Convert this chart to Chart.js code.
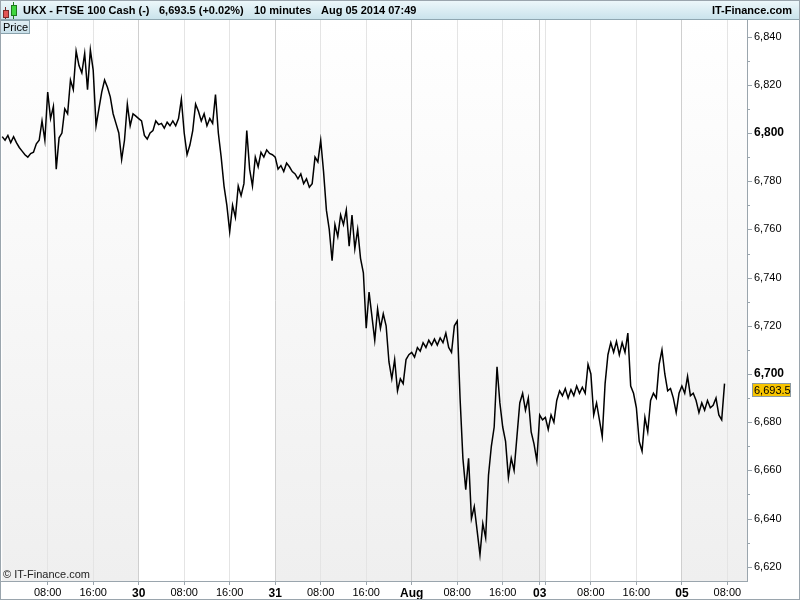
<!DOCTYPE html>
<html>
<head>
<meta charset="utf-8">
<script src="https://cdn.jsdelivr.net/npm/chart.js@4.4.1/dist/chart.umd.min.js"></script>
<style>
  html, body { margin: 0; padding: 0; background: #fff; }
  #wrap { width: 800px; height: 600px; }
</style>
</head>
<body>
<div id="wrap"><canvas id="chart" width="800" height="600"></canvas></div>
<script>
// UKX - FTSE 100 Cash, 10 minute bars. x = bar index, 0 = Tue Jul 29 2014 00:00,
// weekend gap removed (Fri session ends 22:30, Sun session 23:00-24:00).
// Prices every 30 minutes (3 bars).
const STEP = 3;
const sessionStart = { jul29: 0, jul30: 144, jul31: 288, aug1: 432, aug3: 567, aug4: 573, aug5: 717 };

const jul29 = [6798.5, 6797, 6799, 6796, 6798.5, 6796, 6794, 6792.5, 6791, 6790,
  6791.5, 6792, 6795.5, 6797, 6805, 6797, 6817, 6806, 6811, 6785,
  6798, 6800, 6810, 6808, 6822, 6818, 6834, 6828, 6825, 6833,
  6818, 6834.5, 6826, 6803, 6810, 6817, 6822, 6819, 6815, 6808,
  6804, 6800, 6789, 6797, 6812, 6803, 6808, 6807];
const jul30 = [6806, 6805, 6799, 6797.5, 6800, 6801, 6805, 6803.5, 6804, 6802,
  6804.5, 6803, 6805, 6803, 6806, 6814, 6800, 6791, 6795, 6801,
  6812, 6809, 6805, 6808, 6803, 6806, 6804, 6816, 6800, 6790,
  6778, 6770, 6759, 6770, 6765, 6778, 6774, 6779, 6801, 6785,
  6778, 6790, 6786, 6792, 6790, 6793, 6791.5, 6791];
const jul31 = [6790, 6785, 6786.5, 6784, 6787.5, 6786, 6784, 6783, 6781, 6783,
  6779, 6781, 6777.5, 6779, 6790, 6788, 6797, 6784, 6768, 6760,
  6747, 6762, 6757, 6766, 6762, 6768, 6753, 6766, 6752, 6760,
  6748, 6742, 6719, 6734, 6724, 6714, 6727, 6719, 6725, 6720,
  6705, 6698, 6706, 6693, 6698, 6696, 6706, 6708];
const aug1 = [6709, 6707, 6711, 6709.5, 6713, 6711, 6714, 6712, 6714.5, 6712,
  6715, 6713, 6717, 6711, 6709, 6720, 6722, 6690, 6665, 6652,
  6665, 6640, 6645, 6635, 6625, 6638, 6632, 6658, 6670, 6678,
  6703, 6688, 6678, 6672, 6657, 6665, 6660, 6674, 6688, 6692,
  6685, 6690, 6676, 6671, 6664];
const aug3 = [6683, 6681];
const aug4 = [6682, 6677, 6683, 6680, 6689, 6693, 6691, 6694, 6690, 6693.5,
  6691, 6695, 6692, 6694.5, 6692, 6704, 6700, 6683, 6688, 6681,
  6674, 6696, 6708, 6713, 6709, 6713.5, 6708, 6713, 6709, 6717,
  6695, 6692, 6686, 6672, 6668, 6682, 6676, 6689, 6692, 6690,
  6704, 6710, 6700, 6693, 6694, 6690, 6684, 6692];
const aug5 = [6695, 6692, 6699, 6691, 6692, 6689, 6684, 6688, 6685, 6689,
  6686, 6687, 6690, 6683, 6681, 6696];
const lastPrice = 6693.5;

const xTickBars = [48, 96, 144, 192, 240, 288, 336, 384, 432, 480, 528, 567, 573, 621, 669, 717, 765];
const xTickLabels = ['08:00', '16:00', '30', '08:00', '16:00', '31', '08:00', '16:00', 'Aug',
  '08:00', '16:00', '03', '', '08:00', '16:00', '05', '08:00'];
const dayLabels = ['30', '31', 'Aug', '03', '05'];
const yTicks = [6620, 6640, 6660, 6680, 6700, 6720, 6740, 6760, 6780, 6800, 6820, 6840];
const shadedRanges = [[0, 144], [288, 573], [717, 800]];

const FONT = "'Liberation Sans', Arial, sans-serif";
const AXIS_COLOR = '#9aa5ad';

function toPoints(start, values) {
  return values.map((v, i) => ({ x: start + i * STEP, y: v }));
}

const series = [
  ...toPoints(sessionStart.jul29, jul29),
  ...toPoints(sessionStart.jul30, jul30),
  ...toPoints(sessionStart.jul31, jul31),
  ...toPoints(sessionStart.aug1, aug1),
  ...toPoints(sessionStart.aug3, aug3),
  ...toPoints(sessionStart.aug4, aug4),
  ...toPoints(sessionStart.aug5, aug5)
];

const decor = {
  id: 'decor',
  beforeDraw(chart) {
    const { ctx, chartArea: a, scales: { x } } = chart;
    ctx.save();
    ctx.fillStyle = '#fff';
    ctx.fillRect(0, 0, chart.width, chart.height);

    // day bands
    const grad = ctx.createLinearGradient(0, a.top, 0, a.bottom);
    grad.addColorStop(0, '#ffffff');
    grad.addColorStop(1, '#efefef');
    ctx.fillStyle = grad;
    shadedRanges.forEach(([s, e]) => {
      const x0 = Math.max(a.left, x.getPixelForValue(s));
      const x1 = Math.min(a.right, x.getPixelForValue(e));
      ctx.fillRect(x0, a.top, x1 - x0, a.bottom - a.top);
    });

    // header bar
    const hg = ctx.createLinearGradient(0, 0, 0, 20);
    hg.addColorStop(0, '#eef8fb');
    hg.addColorStop(1, '#c8e2eb');
    ctx.fillStyle = hg;
    ctx.fillRect(0, 0, chart.width, 20);
    ctx.fillStyle = '#8fa7b1';
    ctx.fillRect(0, 19, chart.width, 1);

    // candle icon
    ctx.lineWidth = 1;
    ctx.strokeStyle = '#7a2a2a';
    ctx.beginPath(); ctx.moveTo(5.5, 7); ctx.lineTo(5.5, 19); ctx.stroke();
    ctx.fillStyle = '#e25555';
    ctx.fillRect(3, 10, 6, 8);
    ctx.strokeRect(3.5, 10.5, 5, 7);
    ctx.strokeStyle = '#1e7a1e';
    ctx.beginPath(); ctx.moveTo(13.5, 2); ctx.lineTo(13.5, 19); ctx.stroke();
    ctx.fillStyle = '#3fd63f';
    ctx.fillRect(11, 5, 6, 11);
    ctx.strokeRect(11.5, 5.5, 5, 10);

    ctx.fillStyle = '#000';
    ctx.font = `bold 11px ${FONT}`;
    ctx.textBaseline = 'middle';
    ctx.textAlign = 'left';
    ctx.fillText('UKX - FTSE 100 Cash (-)', 23, 10.5);
    ctx.fillText('6,693.5 (+0.02%)', 159, 10.5);
    ctx.fillText('10 minutes', 254, 10.5);
    ctx.fillText('Aug 05 2014 07:49', 321, 10.5);
    ctx.textAlign = 'right';
    ctx.fillText('IT-Finance.com', 792, 10.5);
    ctx.restore();
  },
  afterDraw(chart) {
    const { ctx, chartArea: a, scales: { y } } = chart;
    ctx.save();

    // y minor / major tick marks
    ctx.strokeStyle = AXIS_COLOR;
    ctx.lineWidth = 1;
    for (let v = 6620; v <= 6840; v += 10) {
      const py = Math.round(y.getPixelForValue(v)) + 0.5;
      const len = v % 20 === 0 ? 5 : 3;
      ctx.beginPath();
      ctx.moveTo(a.right, py);
      ctx.lineTo(a.right + len, py);
      ctx.stroke();
    }

    // last price tag
    const py = y.getPixelForValue(lastPrice);
    ctx.fillStyle = '#f7c400';
    ctx.fillRect(752, Math.round(py) - 7, 39, 14);
    ctx.strokeStyle = '#8c9aa2';
    ctx.strokeRect(752.5, Math.round(py) - 6.5, 38, 13);
    ctx.fillStyle = '#000';
    ctx.font = `11px ${FONT}`;
    ctx.textBaseline = 'middle';
    ctx.textAlign = 'left';
    ctx.fillText('6,693.5', 754, Math.round(py) + 0.5);

    // "Price" tab
    const pg = ctx.createLinearGradient(0, 20, 0, 34);
    pg.addColorStop(0, '#e2f0f5');
    pg.addColorStop(1, '#c6dee8');
    ctx.fillStyle = pg;
    ctx.fillRect(0, 20, 30, 14);
    ctx.strokeStyle = '#8aa2ac';
    ctx.strokeRect(0.5, 20.5, 29, 13);
    ctx.fillStyle = '#000';
    ctx.fillText('Price', 3, 27.5);

    // copyright
    ctx.fillStyle = '#222';
    ctx.fillText('\u00a9 IT-Finance.com', 3, 575);

    // outer frame
    ctx.strokeStyle = AXIS_COLOR;
    ctx.strokeRect(0.5, 0.5, chart.width - 1, chart.height - 1);
    ctx.restore();
  }
};

new Chart(document.getElementById('chart'), {
  type: 'line',
  data: {
    datasets: [{
      data: series,
      borderColor: '#000',
      borderWidth: 1.5,
      pointRadius: 0,
      tension: 0,
      fill: false
    }]
  },
  options: {
    responsive: false,
    animation: false,
    layout: { padding: { top: 20, left: 1, right: 0, bottom: 0 } },
    plugins: { legend: { display: false }, tooltip: { enabled: false } },
    scales: {
      x: {
        type: 'linear',
        min: -1.27,
        max: 785.7,
        afterBuildTicks: (scale) => { scale.ticks = xTickBars.map(v => ({ value: v })); },
        afterFit: (scale) => { scale.height = 19; },
        ticks: {
          autoSkip: false,
          maxRotation: 0,
          padding: 1,
          color: '#000',
          callback: (v, i) => xTickLabels[i],
          font: (c) => dayLabels.includes(xTickLabels[c.index])
            ? { family: FONT, size: 12, weight: 'bold' }
            : { family: FONT, size: 11 }
        },
        grid: {
          drawOnChartArea: true,
          tickLength: 4,
          tickColor: AXIS_COLOR,
          color: (c) => dayLabels.includes(xTickLabels[c.index]) ? '#cfcfcf' : '#e4e4e4'
        },
        border: { display: true, color: AXIS_COLOR }
      },
      y: {
        position: 'right',
        min: 6614.1,
        max: 6846.9,
        afterBuildTicks: (scale) => { scale.ticks = yTicks.map(v => ({ value: v })); },
        afterFit: (scale) => { scale.width = 53; },
        ticks: {
          padding: 7,
          color: '#000',
          callback: (v) => v.toLocaleString('en-US'),
          font: (c) => c.tick && c.tick.value % 100 === 0
            ? { family: FONT, size: 12, weight: 'bold' }
            : { family: FONT, size: 11 }
        },
        grid: { display: false, drawTicks: false },
        border: { display: true, color: AXIS_COLOR }
      }
    }
  },
  plugins: [decor]
});
</script>
</body>
</html>
